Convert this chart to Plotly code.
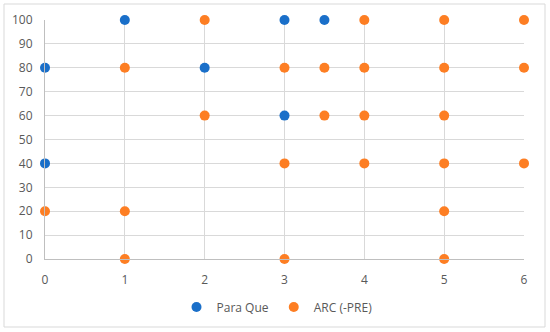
import plotly.graph_objects as go

para_x = [0, 0, 1, 2, 3, 3, 3.5]
para_y = [80, 40, 100, 80, 100, 60, 100]
arc_x = [0, 1, 1, 1, 2, 2, 3, 3, 3, 3.5, 3.5, 4, 4, 4, 4, 5, 5, 5, 5, 5, 5, 6, 6, 6]
arc_y = [20, 80, 20, 0, 100, 60, 80, 40, 0, 80, 60, 100, 80, 60, 40, 100, 80, 60, 40, 20, 0, 100, 80, 40]
x_ticks = [0, 1, 2, 3, 4, 5, 6]
y_ticks = [0, 10, 20, 30, 40, 50, 60, 70, 80, 90, 100]

fig = go.Figure()
fig.add_trace(go.Scatter(x=para_x, y=para_y, mode="markers", name="Para Que",
                         marker=dict(color="#1a6fc9", size=10), cliponaxis=False))
fig.add_trace(go.Scatter(x=arc_x, y=arc_y, mode="markers", name="ARC (-PRE)",
                         marker=dict(color="#fd7e23", size=10), cliponaxis=False))

L, R, T, B = 45, 26, 20, 73
W, H = 550, 332
pw, ph = W - L - R, H - T - B

def px2x(p):
    return (p - L) / pw

def py2y(p):
    return (H - B - p) / ph

fig.update_layout(
    width=W, height=H,
    margin=dict(l=L, r=R, t=T, b=B, autoexpand=False),
    paper_bgcolor="white", plot_bgcolor="white",
    font=dict(family="Open Sans, Noto Sans, sans-serif", size=12, color="#595959"),
    showlegend=True,
    legend=dict(orientation="h", x=px2x(277), xanchor="center", y=py2y(307), yanchor="middle",
                font=dict(size=12, color="#595959"), itemwidth=30,
                tracegroupgap=0),
    xaxis=dict(range=[0, 6], tickvals=x_ticks, showgrid=True, gridcolor="#d9d9d9",
               gridwidth=1, zeroline=False, showline=True, linecolor="#bfbfbf",
               ticks="outside", ticklen=10, tickcolor="rgba(0,0,0,0)", fixedrange=True),
    yaxis=dict(range=[0, 100], tickvals=y_ticks, showgrid=True, gridcolor="#d9d9d9",
               gridwidth=1, zeroline=False, showline=True, linecolor="#bfbfbf",
               ticks="outside", ticklen=9, tickcolor="rgba(0,0,0,0)", fixedrange=True),
    shapes=[dict(type="rect", xref="paper", yref="paper",
                 x0=px2x(4), x1=px2x(545), y0=py2y(327), y1=py2y(4),
                 line=dict(color="#d9d9d9", width=1), layer="below")],
)

fig.write_html("out.html", config={"displayModeBar": False},
               post_script="document.body.style.margin='0';document.body.style.padding='0';")
